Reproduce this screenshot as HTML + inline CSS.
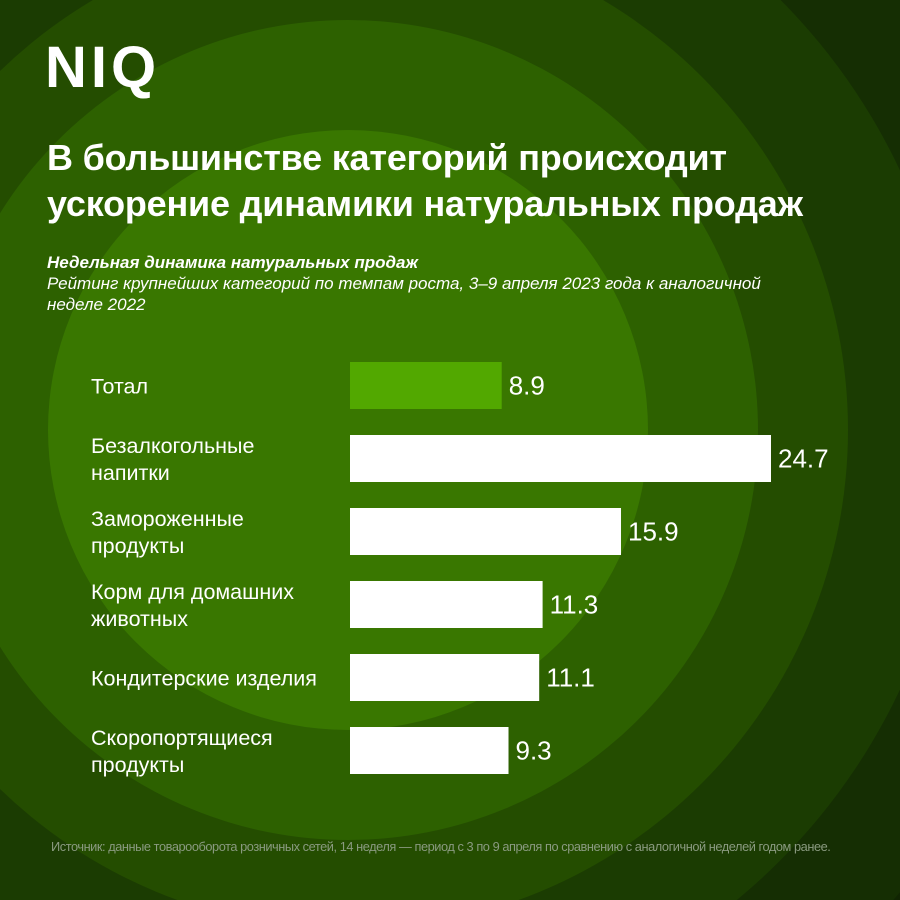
<!DOCTYPE html>
<html><head><meta charset="utf-8">
<style>
html,body{margin:0;padding:0;width:900px;height:900px;overflow:hidden}
body{position:relative;background:#112503;font-family:"Liberation Sans",sans-serif;color:#fff}
.abs{position:absolute}
</style></head>
<body>
<svg class="abs" style="left:0;top:0" width="900" height="900">
<circle cx="348" cy="430" r="720" fill="#152e03"/>
<circle cx="348" cy="430" r="610" fill="#1b3c02"/>
<circle cx="348" cy="430" r="500" fill="#244d00"/>
<circle cx="348" cy="430" r="410" fill="#2d6100"/>
<circle cx="348" cy="430" r="300" fill="#397700"/>
</svg>
<div class="abs" style="left:45px;top:34px;font-size:58px;font-weight:bold;letter-spacing:4px">NIQ</div>
<div class="abs" style="left:47px;top:135px;font-size:36px;font-weight:bold;line-height:46px;letter-spacing:-0.2px;white-space:nowrap">В большинстве категорий происходит<br>ускорение динамики натуральных продаж</div>
<div class="abs" style="left:47px;top:252px;font-size:17px;font-style:italic;line-height:21px;white-space:nowrap">
<b>Недельная динамика натуральных продаж</b><br>Рейтинг крупнейших категорий по темпам роста, 3–9 апреля 2023 года к аналогичной<br>неделе 2022</div>
<svg class="abs" style="left:0;top:0" width="900" height="900" id="chart"></svg>
<div class="abs" style="left:51px;top:839px;font-size:12.8px;color:#8a9a80;letter-spacing:-0.45px;white-space:nowrap">Источник: данные товарооборота розничных сетей, 14 неделя — период с 3 по 9 апреля по сравнению с аналогичной неделей годом ранее.</div>
<script>
const categories=[["Тотал"],["Безалкогольные","напитки"],["Замороженные","продукты"],["Корм для домашних","животных"],["Кондитерские изделия"],["Скоропортящиеся","продукты"]];
const values=[8.9,24.7,15.9,11.3,11.1,9.3];
const valueLabels=["8.9","24.7","15.9","11.3","11.1","9.3"];
const svg=document.getElementById('chart');
const NS='http://www.w3.org/2000/svg';
const x0=350,scale=421/24.7;
function xs(v){return x0+v*scale;}
function yb(i){return 362+i*73;}
const bh=47;
values.forEach((v,i)=>{
 const r=document.createElementNS(NS,'rect');
 r.setAttribute('x',x0);r.setAttribute('y',yb(i));
 r.setAttribute('width',xs(v)-x0);r.setAttribute('height',bh);
 r.setAttribute('fill',i===0?'#52a800':'#ffffff');
 
 
 svg.appendChild(r);
 const t=document.createElementNS(NS,'text');
 t.setAttribute('x',xs(v)+7);t.setAttribute('y',yb(i)+bh/2+9);
 t.setAttribute('fill','#fff');t.setAttribute('font-size','26');
 t.setAttribute('font-family','Liberation Sans, sans-serif');
 t.textContent=valueLabels[i];
 
 
 svg.appendChild(t);
 const lines=categories[i];
 const c=document.createElementNS(NS,'text');
 c.setAttribute('fill','#fff');c.setAttribute('font-size','21.5');
 c.setAttribute('font-family','Liberation Sans, sans-serif');
 const startY=yb(i)+bh/2+8-(lines.length-1)*13.5;
 lines.forEach((ln,j)=>{
  const s=document.createElementNS(NS,'tspan');
  s.setAttribute('x',91);s.setAttribute('y',startY+j*27);
  s.textContent=ln;c.appendChild(s);
 });
 
 
 svg.appendChild(c);
});
</script>
</body></html>
